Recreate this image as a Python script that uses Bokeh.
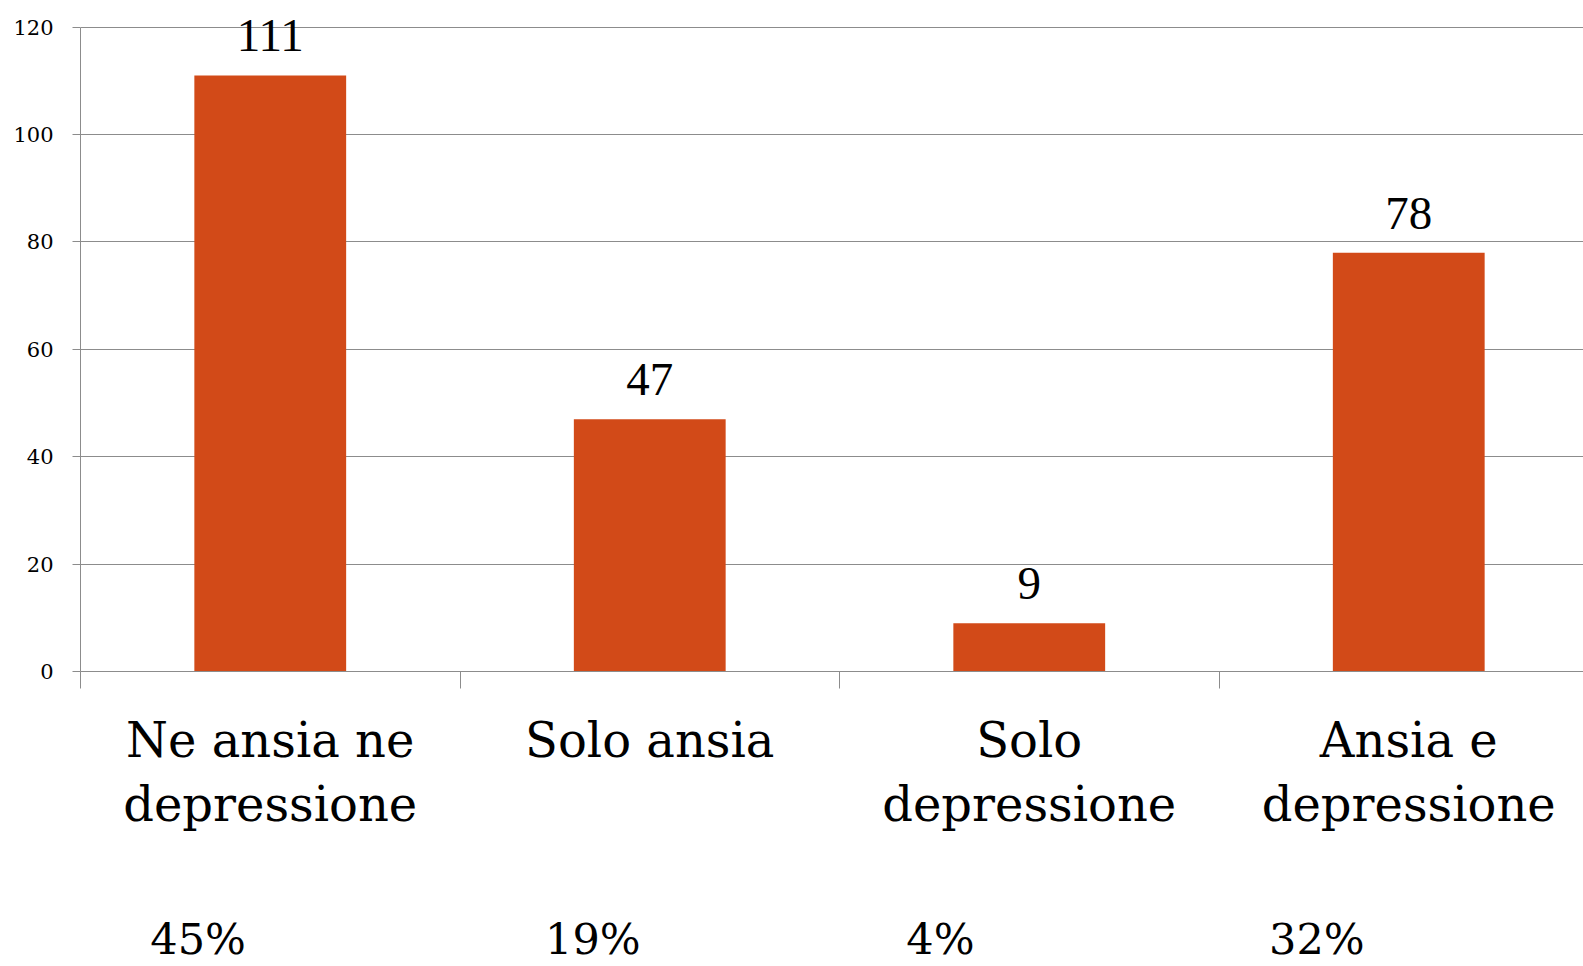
from bokeh.plotting import figure
from bokeh.models import (ColumnDataSource, FixedTicker, LabelSet, Range1d, LinearAxis)
from bokeh.embed import file_html
from bokeh.resources import INLINE

# ---- data ----
categories = ["Ne ansia ne\ndepressione", "Solo ansia", "Solo\ndepressione", "Ansia e\ndepressione"]
counts = [111, 47, 9, 78]
percent_labels = ["45%", "19%", "4%", "32%"]
y_ticks = [0, 20, 40, 60, 80, 100, 120]

# ---- layout helpers (positions, not data) ----
pct_x = [0.310, 1.350, 2.266, 3.258]   # centre of percentage texts, in category units
FONT = "DejaVu Serif"
BAR_COLOR = "#D24A18"
GRID = "#8c8c8c"
PX_PER_CAT = 379.5

n = len(categories)
x_pos = [i + 0.5 for i in range(n)]
src = ColumnDataSource(dict(x=x_pos, top=counts, lab=[str(c) for c in counts]))

p = figure(width=1583, height=966, output_backend="svg", toolbar_location=None,
           x_range=Range1d(0, (1583 - 80) / PX_PER_CAT), y_range=Range1d(0, 123.1),
           min_border_left=80, min_border_right=0, min_border_top=10,
           min_border_bottom=295)
p.outline_line_color = None
p.background_fill_color = "white"
p.border_fill_color = "white"

p.vbar(x="x", top="top", width=0.4, bottom=0, source=src,
       fill_color=BAR_COLOR, line_color=None)

# category axis: labels at bar centres, boundary ticks as minor ticks
p.xaxis.ticker = FixedTicker(ticks=x_pos, minor_ticks=list(range(n)))
p.xaxis.major_label_overrides = {x: c for x, c in zip(x_pos, categories)}
p.xaxis.major_tick_out = 0
p.xaxis.major_tick_in = 0
p.xaxis.minor_tick_out = 17
p.xaxis.minor_tick_in = 0
p.xaxis.minor_tick_line_color = GRID
p.xaxis.axis_line_color = GRID
p.xaxis.major_label_text_font = FONT
p.xaxis.major_label_text_font_size = "48px"
p.xaxis.major_label_text_line_height = 1.16
p.xaxis.major_label_text_color = "black"
p.xaxis.major_label_standoff = 23

# percentage row as a second axis below
pax = LinearAxis(ticker=FixedTicker(ticks=pct_x, minor_ticks=[]),
                 major_label_overrides={x: t for x, t in zip(pct_x, percent_labels)})
pax.axis_line_color = None
pax.major_tick_line_color = None
pax.minor_tick_line_color = None
pax.major_tick_out = 0
pax.major_tick_in = 0
pax.major_label_text_font = FONT
pax.major_label_text_font_size = "43px"
pax.major_label_text_color = "black"
pax.major_label_standoff = 78
p.add_layout(pax, "below")

p.yaxis.ticker = FixedTicker(ticks=y_ticks)
p.yaxis.bounds = (y_ticks[0], y_ticks[-1])
p.yaxis.major_tick_out = 8
p.yaxis.major_tick_in = 0
p.yaxis.minor_tick_out = 0
p.yaxis.minor_tick_in = 0
p.yaxis.axis_line_color = GRID
p.yaxis.major_tick_line_color = GRID
p.yaxis.major_label_text_font = FONT
p.yaxis.major_label_text_font_size = "21px"
p.yaxis.major_label_text_color = "black"
p.yaxis.major_label_standoff = 19

p.xgrid.grid_line_color = None
p.ygrid.ticker = FixedTicker(ticks=y_ticks)
p.ygrid.grid_line_color = GRID
p.ygrid.grid_line_width = 1

# value labels above bars
p.add_layout(LabelSet(x="x", y="top", text="lab", source=src, y_offset=24,
                      text_align="center", text_baseline="alphabetic",
                      text_font=FONT, text_font_size="47px", text_color="black"))

open("out.html", "w").write(file_html(p, INLINE))
